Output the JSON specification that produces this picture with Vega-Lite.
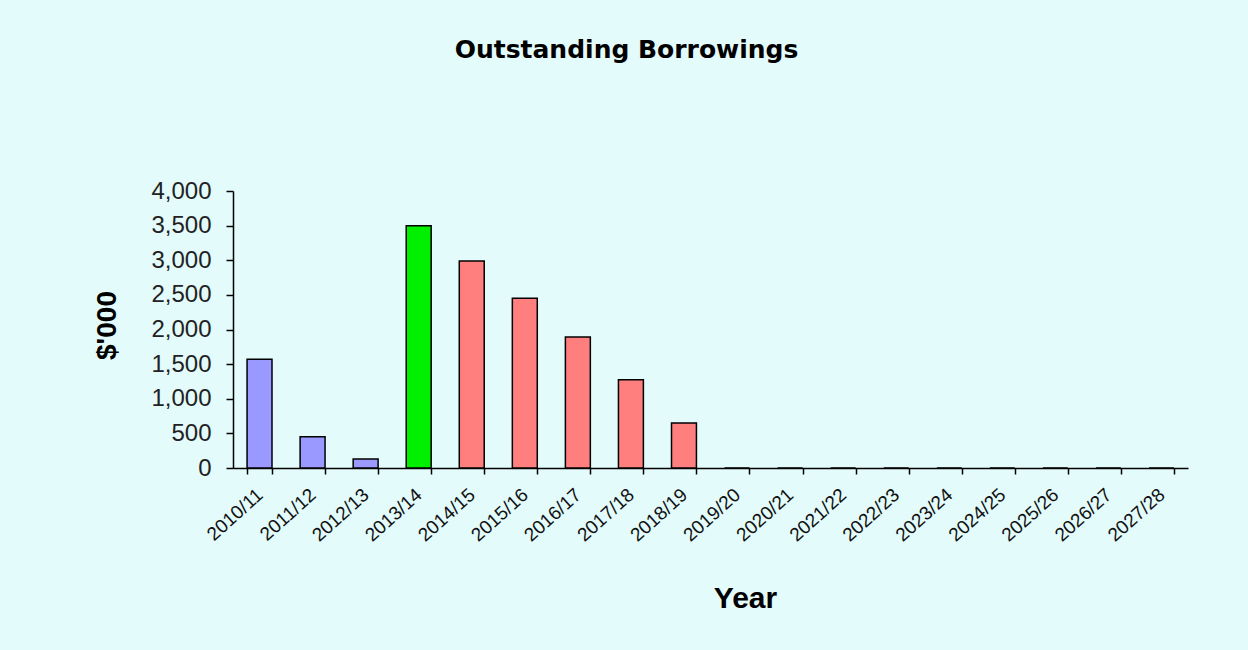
{
  "$schema": "https://vega.github.io/schema/vega-lite/v6.json",
  "width": 955,
  "height": 277,
  "autosize": "none",
  "padding": {"left": 233, "top": 191, "right": 60, "bottom": 182},
  "background": "#e3fbfb",
  "title": {
    "text": "Outstanding Borrowings",
    "font": "DejaVu Sans",
    "fontSize": 25,
    "fontWeight": "bold",
    "color": "#000000",
    "anchor": "middle",
    "dx": -84,
    "offset": 116
  },
  "config": {
    "view": {"stroke": null},
    "font": "Liberation Sans"
  },
  "data": {
    "values": [
      {"year": "2010/11", "value": 1570, "type": "actual"},
      {"year": "2011/12", "value": 450, "type": "actual"},
      {"year": "2012/13", "value": 130, "type": "actual"},
      {"year": "2013/14", "value": 3500, "type": "current"},
      {"year": "2014/15", "value": 2990, "type": "forecast"},
      {"year": "2015/16", "value": 2450, "type": "forecast"},
      {"year": "2016/17", "value": 1890, "type": "forecast"},
      {"year": "2017/18", "value": 1275, "type": "forecast"},
      {"year": "2018/19", "value": 650, "type": "forecast"},
      {"year": "2019/20", "value": 0, "type": "forecast"},
      {"year": "2020/21", "value": 0, "type": "forecast"},
      {"year": "2021/22", "value": 0, "type": "forecast"},
      {"year": "2022/23", "value": 0, "type": "forecast"},
      {"year": "2023/24", "value": 0, "type": "forecast"},
      {"year": "2024/25", "value": 0, "type": "forecast"},
      {"year": "2025/26", "value": 0, "type": "forecast"},
      {"year": "2026/27", "value": 0, "type": "forecast"},
      {"year": "2027/28", "value": 0, "type": "forecast"}
    ]
  },
  "mark": {"type": "bar", "stroke": "#000000", "strokeWidth": 1.5},
  "encoding": {
    "x": {
      "field": "year",
      "type": "nominal",
      "sort": null,
      "scale": {"paddingInner": 0.53, "paddingOuter": 0.265},
      "axis": {
        "title": "Year",
        "titleFont": "Liberation Sans",
        "titleFontSize": 30,
        "titleFontWeight": "bold",
        "titleColor": "#000000",
        "titleX": 512,
        "titleY": 139,
        "titleAlign": "center",
        "titleBaseline": "alphabetic",
        "labelAngle": -42,
        "labelFont": "Liberation Sans",
        "labelFontSize": 19,
        "labelColor": "#111111",
        "labelPadding": 11,
        "labelOffset": -6,
        "tickBand": "extent",
        "tickSize": 6,
        "tickColor": "#000000",
        "domainColor": "#000000",
        "domainWidth": 1.5,
        "tickWidth": 1.5
      }
    },
    "y": {
      "field": "value",
      "type": "quantitative",
      "scale": {"domain": [0, 4000]},
      "axis": {
        "title": "$'000",
        "titleFont": "Liberation Sans",
        "titleFontSize": 28,
        "titleFontWeight": "bold",
        "titleColor": "#000000",
        "titleX": -118,
        "titleY": 134,
        "titleAngle": -90,
        "titleAlign": "center",
        "titleBaseline": "alphabetic",
        "values": [0, 500, 1000, 1500, 2000, 2500, 3000, 3500, 4000],
        "format": ",.0f",
        "labelFont": "Liberation Sans",
        "labelFontSize": 24,
        "labelColor": "#222222",
        "labelPadding": 15,
        "grid": false,
        "tickSize": 7,
        "tickColor": "#000000",
        "domainColor": "#000000",
        "domainWidth": 1.5,
        "tickWidth": 1.5
      }
    },
    "color": {
      "field": "type",
      "type": "nominal",
      "scale": {
        "domain": ["actual", "current", "forecast"],
        "range": ["#9999ff", "#00f000", "#ff7f7f"]
      },
      "legend": null
    }
  }
}
